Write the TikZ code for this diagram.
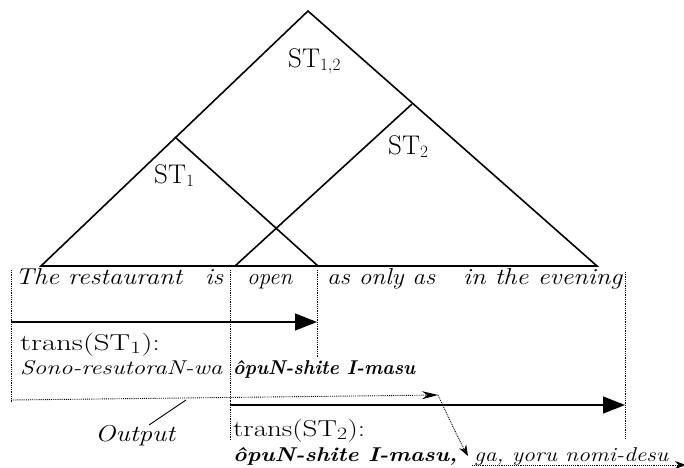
\documentclass[tikz,border=0pt]{standalone}
\usepackage{graphicx}
\usetikzlibrary{arrows.meta}
\newcommand\fitw[2]{\resizebox{#1}{\height}{#2}}
\begin{document}
\begin{tikzpicture}[x=1pt,y=-1pt,
  tri/.style={line width=1.6pt},
  dotln/.style={densely dotted, line width=0.8pt},
  solidarrow/.style={line width=1.3pt, -{Triangle[length=22pt,width=17pt]}},
  dotarrow/.style={densely dotted, line width=0.9pt, -{Stealth[length=16pt,width=8pt]}},
  dotarrowsm/.style={densely dotted, line width=0.9pt, -{Stealth[length=11pt,width=8pt]}},
  itx/.style={anchor=base west, inner sep=0pt, font=\fontsize{23}{24}\selectfont\itshape},
  smit/.style={anchor=base west, inner sep=0pt, font=\fontsize{20}{22}\selectfont\itshape},
  smbf/.style={anchor=base west, inner sep=0pt, font=\fontsize{20}{22}\selectfont\bfseries\itshape},
  rmx/.style={anchor=base west, inner sep=0pt, font=\fontsize{23}{25}\selectfont},
  stl/.style={anchor=base west, inner sep=0pt, font=\fontsize{27}{29}\selectfont}
]
\useasboundingbox (0,0) rectangle (684,467);
% tree
\coordinate (apex) at (308,11);
\coordinate (L) at (41,266);
\coordinate (R) at (597,266);
\coordinate (s1a) at (175,137);
\coordinate (s1r) at (318,266);
\coordinate (s2a) at (412,104);
\coordinate (s2l) at (235,266);
\draw[tri] (L) -- (apex) -- (R) -- cycle;
\draw[tri] (s1a) -- (s1r);
\draw[tri] (s2a) -- (s2l);
\node[stl] (st12) at (288,67) {ST$_{1,2}$};
\node[stl] (st1) at (154,183) {ST$_1$};
\node[stl] (st2) at (388,154) {ST$_2$};
% source words
\node[itx] (w1) at (15,284) {\fitw{167pt}{The restaurant}};
\node[itx] (w2) at (205,284) {\fitw{18pt}{is}};
\node[itx] (w3) at (247,284) {\fitw{45pt}{open}};
\node[itx] (w4) at (327,284) {\fitw{108pt}{as only as}};
\node[itx] (w5) at (463,284) {\fitw{159pt}{in the evening}};
% dotted verticals
\coordinate (v1t) at (11,270); \coordinate (v1b) at (11,402);
\coordinate (v2t) at (230,270); \coordinate (v2b) at (230,440);
\coordinate (v3t) at (317,270); \coordinate (v3b) at (317,358);
\coordinate (v4t) at (625,272); \coordinate (v4b) at (625,438);
\draw[dotln] (v1t) -- (v1b);
\draw[dotln] (v2t) -- (v2b);
\draw[dotln] (v3t) -- (v3b);
\draw[dotln] (v4t) -- (v4b);
% solid arrows
\coordinate (a1s) at (11,322); \coordinate (a1e) at (317,322);
\draw[solidarrow] (a1s) -- (a1e);
\coordinate (a2s) at (230,405); \coordinate (a2e) at (625,405);
\draw[solidarrow] (a2s) -- (a2e);
% trans ST1
\node[rmx] (t1) at (20,350) {\fitw{140pt}{trans(ST$_1$):}};
\node[smit] (sono) at (20,374) {\fitw{202pt}{Sono-resutoraN-wa}};
\node[smbf] (opu1) at (233,374) {\fitw{182pt}{ôpuN-shite I-masu}};
% output line
\coordinate (o1) at (11,400);
\coordinate (o2) at (438,395);
\draw[dotarrow] (o1) -- (o2);
\node[itx] (out) at (95,441) {\fitw{80pt}{Output}};
\coordinate (op) at (186,400);
\draw[line width=0.9pt] (149,425) -- (op);
% trans ST2
\node[rmx] (t2) at (233,436) {\fitw{132pt}{trans(ST$_2$):}};
\node[smbf] (opu2) at (233,461) {\fitw{224pt}{ôpuN-shite I-masu,}};
\node[smit] (ga) at (474,461) {\fitw{194pt}{ga, yoru nomi-desu}};
% connector to ga
\coordinate (g1) at (468,456);
\draw[dotarrowsm] (o2) .. controls (446,412) and (458,438) .. (g1);
\coordinate (b1) at (472,465);
\coordinate (b2) at (686,465);
\draw[dotarrowsm] (b1) -- (b2);
\end{tikzpicture}
\end{document}
